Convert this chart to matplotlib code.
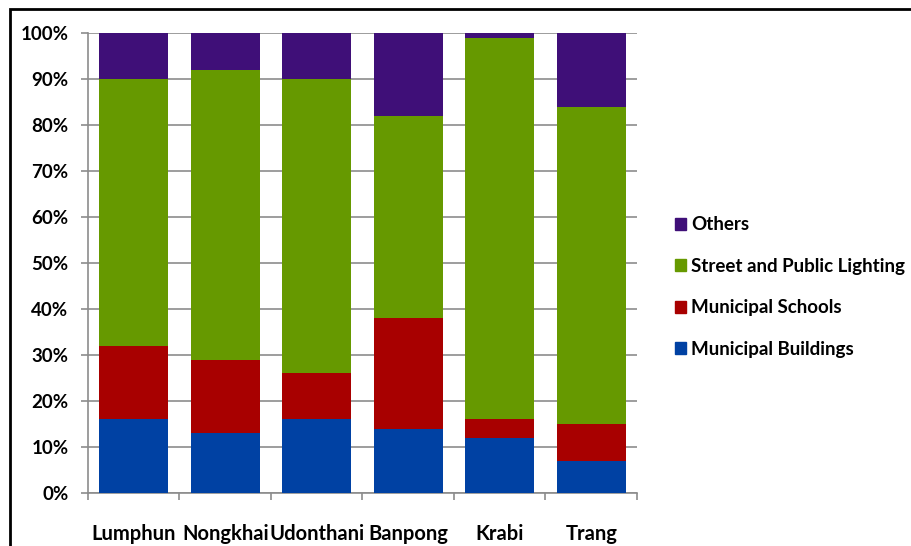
import matplotlib.pyplot as plt
import numpy as np
from matplotlib.patches import Rectangle, Patch

cities = ['Lumphun', 'Nongkhai', 'Udonthani', 'Banpong', 'Krabi', 'Trang']
buildings = [16, 13, 16, 14, 12, 7]
schools = [16, 16, 10, 24, 4, 8]
lighting = [58, 63, 64, 44, 83, 69]
others = [10, 8, 10, 18, 1, 16]

series = ['Municipal Buildings', 'Municipal Schools', 'Street and Public Lighting', 'Others']
colors = ['#0041a3', '#a80000', '#669900', '#3f0f78']

plt.rcParams['font.family'] = ['Lato', 'DejaVu Sans']
plt.rcParams['font.weight'] = 'bold'

fig = plt.figure(figsize=(9.12, 5.46), dpi=100)
ax = fig.add_axes([88 / 912, 1 - 493 / 546, 549 / 912, 460 / 546])

x = np.arange(len(cities))
bottom = np.zeros(len(cities))
for vals, col, name in zip([buildings, schools, lighting, others], colors, series):
    ax.bar(x, vals, width=0.75, bottom=bottom, color=col, label=name, zorder=3)
    bottom += np.array(vals)

ax.set_xlim(-0.5, len(cities) - 0.5)
ax.set_ylim(0, 100)
ax.set_yticks(np.arange(0, 101, 10))
ax.set_yticklabels([f'{v}%' for v in range(0, 101, 10)], fontsize=13.5)
ax.yaxis.grid(True, color='#8c8c8c', linewidth=1.2, zorder=0)
ax.set_xticks(x)
ax.set_xticklabels(cities, fontsize=14.5)
ax.tick_params(axis='x', length=0, pad=22)
ax.set_xticks(np.arange(-0.5, len(cities)), minor=True)
ax.tick_params(axis='x', which='minor', length=5, color='#8c8c8c', width=1.2)
ax.tick_params(axis='y', length=5, color='#8c8c8c', width=1.2, pad=9)
for s in ['top', 'right']:
    ax.spines[s].set_visible(False)
for s in ['left', 'bottom']:
    ax.spines[s].set_color('#8c8c8c')
    ax.spines[s].set_linewidth(1.2)

handles = [Patch(color=c) for c in colors][::-1]
fig.legend(handles, series[::-1], loc='center left', bbox_to_anchor=(658 / 912, 1 - 287 / 546),
           frameon=False, fontsize=13.5, handlelength=0.6, handleheight=0.6,
           handletextpad=0.25, labelspacing=1.3)

fig.patches.append(Rectangle((10 / 912, -0.1), 1.2, 1 - 9 / 546 + 0.1, transform=fig.transFigure,
                             fill=False, edgecolor='black', linewidth=2, zorder=10))

fig.savefig('out.png', dpi=100)
